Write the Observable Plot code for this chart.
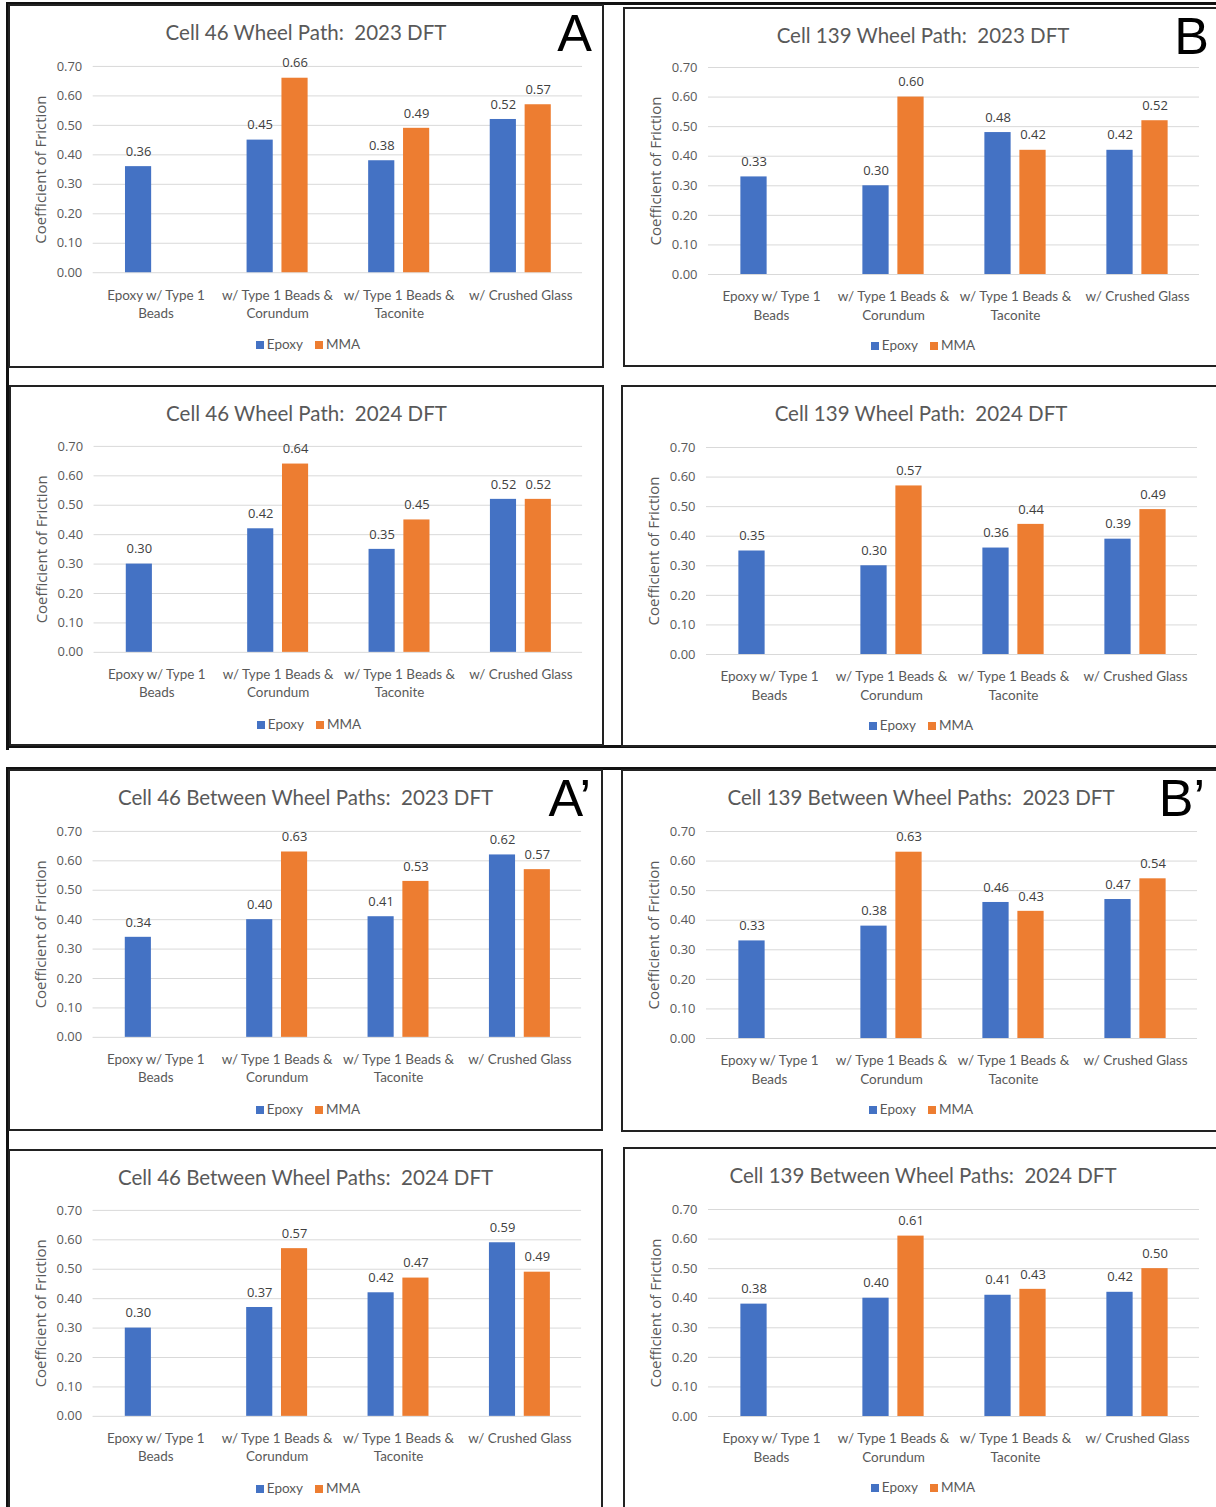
<!DOCTYPE html>
<html><head><meta charset="utf-8">
<script src="https://cdn.jsdelivr.net/npm/d3@7"></script>
<script src="https://cdn.jsdelivr.net/npm/@observablehq/plot@0.6"></script>
<style>
body{margin:0;width:1216px;height:1507px;overflow:hidden;background:#fff;position:relative;font-family:Lato,sans-serif}
.panel{position:absolute;box-sizing:border-box;border:2px solid #222;background:#fff;overflow:hidden}
.title{position:absolute;left:0;right:0;top:14px;line-height:24px;text-align:center;font-size:20.5px;color:#595959;white-space:pre}
.letter{position:absolute;top:1px;font-family:"Liberation Sans",Arial,sans-serif;font-size:52px;line-height:52px;color:#000}
.chart{position:absolute;left:-2px}
.legend{position:absolute;left:0;width:596px;line-height:16px;text-align:center;font-size:13.5px;color:#595959}
.sw{display:inline-block;width:8px;height:8px;margin-right:3px;vertical-align:0px}
.line{position:absolute;background:#111}
</style>
</head><body>
<script>
const categories = ["Epoxy w/ Type 1\nBeads", "w/ Type 1 Beads &\nCorundum", "w/ Type 1 Beads &\nTaconite", "w/ Crushed Glass"];
const series = ["Epoxy", "MMA"];
const seriesColors = ["#4472C4", "#ED7D31"];
const yTicks = [0, 0.1, 0.2, 0.3, 0.4, 0.5, 0.6, 0.7];
const yLabel = "Coefficient of Friction";

const titles = [
  "Cell 46 Wheel Path:  2023 DFT",
  "Cell 139 Wheel Path:  2023 DFT",
  "Cell 46 Wheel Path:  2024 DFT",
  "Cell 139 Wheel Path:  2024 DFT",
  "Cell 46 Between Wheel Paths:  2023 DFT",
  "Cell 139 Between Wheel Paths:  2023 DFT",
  "Cell 46 Between Wheel Paths:  2024 DFT",
  "Cell 139 Between Wheel Paths:  2024 DFT"
];
const panelLetters = ["A", "B", "", "", "A\u2019", "B\u2019", "", ""];

const epoxyC46WP2023 = [0.36, 0.45, 0.38, 0.52];
const mmaC46WP2023   = [null, 0.66, 0.49, 0.57];
const epoxyC139WP2023 = [0.33, 0.30, 0.48, 0.42];
const mmaC139WP2023   = [null, 0.60, 0.42, 0.52];
const epoxyC46WP2024 = [0.30, 0.42, 0.35, 0.52];
const mmaC46WP2024   = [null, 0.64, 0.45, 0.52];
const epoxyC139WP2024 = [0.35, 0.30, 0.36, 0.39];
const mmaC139WP2024   = [null, 0.57, 0.44, 0.49];
const epoxyC46BWP2023 = [0.34, 0.40, 0.41, 0.62];
const mmaC46BWP2023   = [null, 0.63, 0.53, 0.57];
const epoxyC139BWP2023 = [0.33, 0.38, 0.46, 0.47];
const mmaC139BWP2023   = [null, 0.63, 0.43, 0.54];
const epoxyC46BWP2024 = [0.30, 0.37, 0.42, 0.59];
const mmaC46BWP2024   = [null, 0.57, 0.47, 0.49];
const epoxyC139BWP2024 = [0.38, 0.40, 0.41, 0.42];
const mmaC139BWP2024   = [null, 0.61, 0.43, 0.50];

const panelEpoxy = [epoxyC46WP2023, epoxyC139WP2023, epoxyC46WP2024, epoxyC139WP2024, epoxyC46BWP2023, epoxyC139BWP2023, epoxyC46BWP2024, epoxyC139BWP2024];
const panelMMA = [mmaC46WP2023, mmaC139WP2023, mmaC46WP2024, mmaC139WP2024, mmaC46BWP2023, mmaC139BWP2023, mmaC46BWP2024, mmaC139BWP2024];

// layout (page px): left, top, width, height of each framed panel
const panelBoxes = [
  [8, 4, 596, 364], [623, 7, 600, 360],
  [9, 385, 595, 361], [621, 385, 600, 362],
  [8, 769, 595, 362], [621, 769, 600, 363],
  [8, 1149, 595, 370], [623, 1147, 600, 370]
];
const chartTop = [40, 38, 39, 40, 40, 40, 39, 40];
const letterRight = [10, 12, 0, 0, 10, 14, 0, 0];

// decorative outer frame lines
const frameLines = [
  [8, 2, 1216, 3], [6, 2, 3, 748], [6, 745, 1216, 3], [6, 767, 1216, 3], [6, 767, 3, 740]
];
for (const [l, t, w, h] of frameLines) {
  const d = document.createElement("div");
  d.className = "line";
  Object.assign(d.style, {left: l + "px", top: t + "px", width: w + "px", height: h + "px"});
  document.body.appendChild(d);
}

const W = 594, H = 300, mL = 85, mR = 18, mT = 20, mB = 73;
const bw = (W - mL - mR) / categories.length;
const barW = 27, gap = 8;

titles.forEach((title, p) => {
  const [l, t, w, h] = panelBoxes[p];
  const panel = document.createElement("div");
  panel.className = "panel";
  Object.assign(panel.style, {left: l + "px", top: t + "px", width: w + "px", height: h + "px"});
  document.body.appendChild(panel);

  const tt = document.createElement("div");
  tt.className = "title";
  tt.textContent = title;
  panel.appendChild(tt);

  if (panelLetters[p]) {
    const lt = document.createElement("div");
    lt.className = "letter";
    lt.style.right = letterRight[p] + "px";
    lt.textContent = panelLetters[p];
    panel.appendChild(lt);
  }

  const rows = categories.map((c, i) => ({cat: c, epoxy: panelEpoxy[p][i], mma: panelMMA[p][i]}));
  const eRows = rows.filter(d => d.epoxy != null);
  const mRows = rows.filter(d => d.mma != null);
  const off = (barW + gap) / 2;

  const chart = Plot.plot({
    width: W, height: H,
    marginLeft: mL, marginRight: mR, marginTop: mT, marginBottom: mB,
    style: {fontFamily: "'Open Sans', sans-serif", fontSize: "13px", color: "#595959", background: "transparent", overflow: "visible"},
    x: {domain: categories, padding: 0, axis: null},
    y: {domain: [0, 0.7], axis: null},
    marks: [
      Plot.ruleY(yTicks, {stroke: "#d9d9d9", strokeWidth: 1}),
      Plot.barY(eRows, {x: "cat", y: "epoxy", fill: seriesColors[0], insetLeft: bw / 2 - off - barW / 2, insetRight: bw / 2 + off - barW / 2}),
      Plot.barY(mRows, {x: "cat", y: "mma", fill: seriesColors[1], insetLeft: bw / 2 + off - barW / 2, insetRight: bw / 2 - off - barW / 2}),
      Plot.text(eRows, {x: "cat", y: "epoxy", text: d => d.epoxy.toFixed(2), dx: -off, dy: -15, fill: "#404040", fontSize: 13}),
      Plot.text(mRows, {x: "cat", y: "mma", text: d => d.mma.toFixed(2), dx: off, dy: -15, fill: "#404040", fontSize: 13}),
      Plot.axisY({ticks: yTicks, tickFormat: d => d.toFixed(2), tickSize: 0, tickPadding: 11, label: null, fill: "#595959", fontSize: 13}),
      Plot.text(categories, {x: d => d, text: d => d, frameAnchor: "bottom", lineAnchor: "top", dy: 14, lineHeight: 1.35, fill: "#595959", fontFamily: "Lato, sans-serif", fontSize: 13.5}),
      Plot.text([yLabel], {text: d => d, frameAnchor: "left", textAnchor: "middle", rotate: -90, dx: -52, fill: "#595959", fontSize: 15})
    ]
  });
  chart.classList.add("chart");
  chart.style.top = chartTop[p] + "px";
  panel.appendChild(chart);

  const lg = document.createElement("div");
  lg.className = "legend";
  lg.style.top = (chartTop[p] + 290) + "px";
  series.forEach((s, i) => {
    const sw = document.createElement("span");
    sw.className = "sw";
    sw.style.background = seriesColors[i];
    if (i > 0) sw.style.marginLeft = "12px";
    lg.appendChild(sw);
    lg.appendChild(document.createTextNode(s));
  });
  panel.appendChild(lg);
});
</script>
</body></html>
